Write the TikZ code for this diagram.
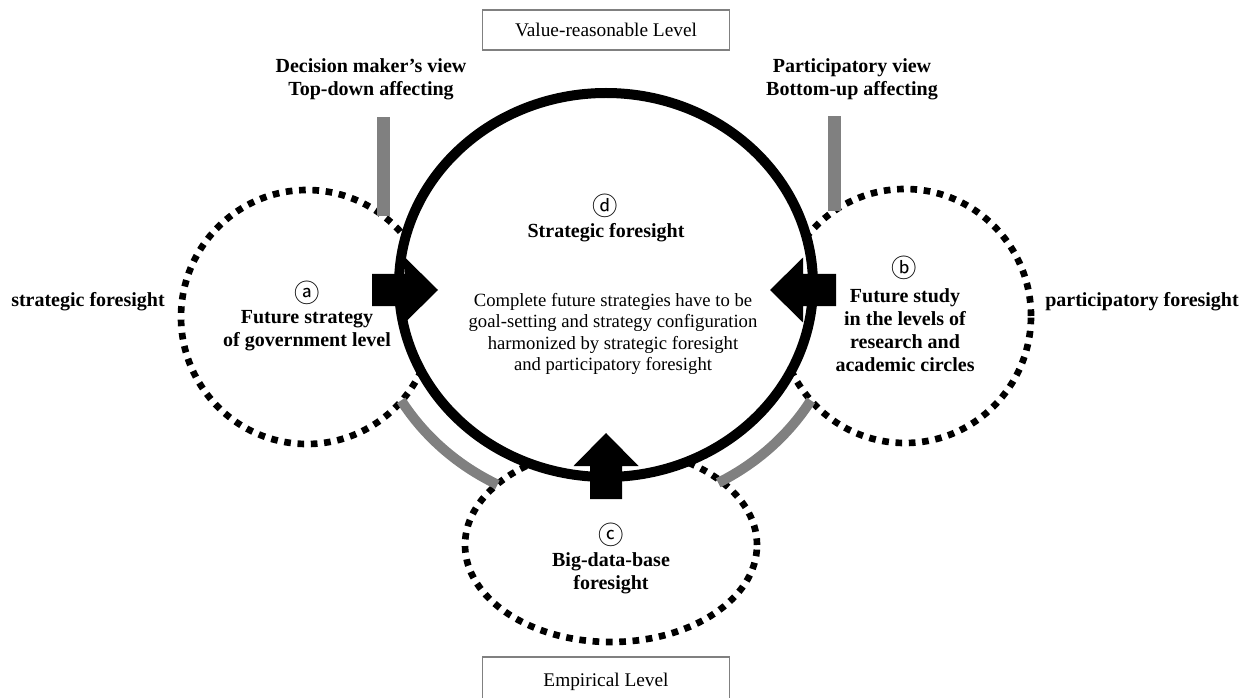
\documentclass[tikz,border=0pt]{standalone}
\usepackage{fontspec}
\setmainfont{Liberation Serif}
\newfontfamily\circfont{Noto Sans CJK SC}
\usetikzlibrary{shapes.geometric}

\definecolor{bargray}{RGB}{128,128,128}

\tikzset{
  dotcircle/.style={draw, ellipse, inner sep=0pt, outer sep=0pt, line width=5pt, dash pattern=on 5pt off 5pt},
  ring/.style={draw, ellipse, inner sep=0pt, outer sep=0pt, line width=7.5pt, fill=white},
  graybar/.style={draw=bargray, line width=10pt},
  grayarc/.style={draw=bargray, line width=7.5pt},
  levelbox/.style={draw=bargray, line width=1pt, minimum width=185pt, minimum height=30pt, font=\fontsize{14.5}{17}\selectfont},
  boldtext/.style={font=\fontsize{15}{17.25}\selectfont\bfseries, align=center},
  bodytext/.style={font=\fontsize{14}{16}\selectfont, align=center},
  letter/.style={inner sep=0pt, font=\circfont\fontsize{19}{19}\selectfont},
  blockarrow/.pic={\fill (0,-16) -- (33,-16) -- (33,-32.5) -- (66,0) -- (33,32.5) -- (33,16) -- (0,16) -- cycle;}
}

\begin{document}
\begin{tikzpicture}[x=0.75pt, y=-0.75pt]

    \useasboundingbox (0,0) rectangle (1244,698);
    \clip (0,0) rectangle (1244,698);

    % the three outer foresight circles
    \node[dotcircle, minimum width=189pt, minimum height=190.5pt] (govt) at (307,317) {};
    \node[dotcircle, minimum width=189pt, minimum height=190.5pt] (acad) at (905,316) {};
    \node[dotcircle, minimum width=219pt, minimum height=145.5pt] (bigdata) at (611,545) {};

    % gray links
    \draw[graybar] (govt.53) -- ++(0,-99);
    \draw[graybar] (acad.124) -- ++(0,-95);
    \node[inner sep=0pt] (centre) at (606,285) {};
    \draw[grayarc] (centre) ++(149:239 and 224) arc[start angle=149, end angle=117, x radius=239, y radius=224];
    \draw[grayarc] (centre) ++(31:239 and 224) arc[start angle=31, end angle=62, x radius=239, y radius=224];

    % main circle
    \node[ring, minimum width=310.5pt, minimum height=288pt] (strat) at (606,285) {};

    % block arrows into the main circle
    \pic at (372,290) {blockarrow};
    \pic[rotate=180] at (836,290) {blockarrow};
    \pic[rotate=90] at (606,499) {blockarrow};

    % levels
    \node[levelbox] (value) at (606,30) {Value-reasonable Level};
    \node[levelbox, minimum height=45pt] (empir) at (606,687) {};
    \node[font=\fontsize{14.5}{17}\selectfont] (emptext) at (606,682) {Empirical Level};

    % views
    \node[boldtext] (topdown) at (371,79) {Decision maker's view\\Top-down affecting};
    \node[boldtext] (bottomup) at (852,79) {Participatory view\\Bottom-up affecting};
    \node[boldtext] (stratside) at (88,302) {strategic foresight};
    \node[boldtext] (partside) at (1142,302) {participatory foresight};

    % circle texts
    \node[letter] (la) at (307,293) {ⓐ};
    \node[boldtext] (govttext) at (307,331) {Future strategy\\of government level};
    \node[letter] (lb) at (904,268) {ⓑ};
    \node[boldtext] (acadtext) at (905,330) {Future study\\in the levels of\\research and\\academic circles};
    \node[letter] (lc) at (611,535) {ⓒ};
    \node[boldtext] (bigtext) at (611,573) {Big-data-base\\foresight};
    \node[letter] (ld) at (605,206) {ⓓ};
    \node[boldtext] (strattitle) at (606,233) {Strategic foresight};
    \node[bodytext] (strattext) at (613,334) {Complete future strategies have to be\\goal-setting and strategy configuration\\harmonized by strategic foresight\\and participatory foresight};

\end{tikzpicture}
\end{document}
